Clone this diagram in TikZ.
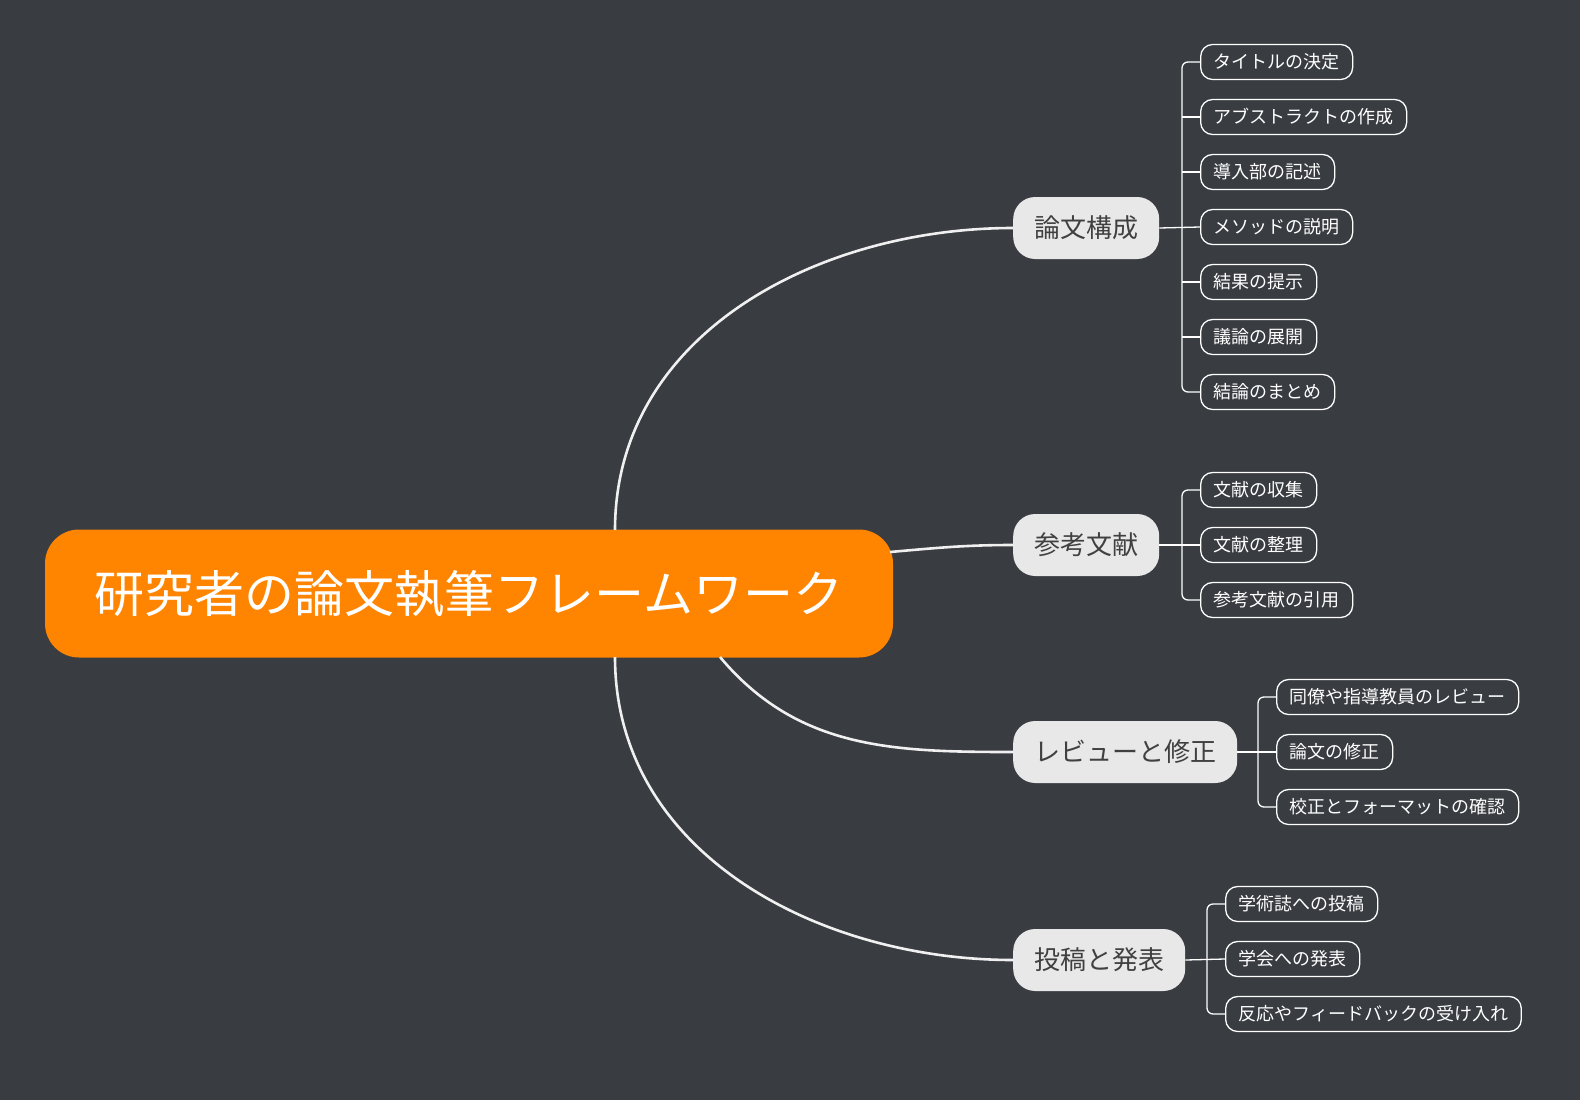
\documentclass[tikz,border=0pt]{standalone}
\usepackage{fontspec}
\setmainfont{Noto Sans CJK JP}
\begin{document}
\begin{tikzpicture}[x=1pt,y=-1pt,
  leaf/.style={draw=white,line width=1.3pt,rounded corners=12pt,text=white,font=\fontsize{18}{18}\selectfont,anchor=west,minimum height=35pt,inner xsep=13pt},
  branch/.style={fill=black!9,rounded corners=22pt,text=black!75,font=\fontsize{26}{26}\selectfont,anchor=west,minimum height=62pt,inner xsep=21pt},
  conn/.style={draw=black!6,line width=2.6pt},
  brk/.style={draw=white,line width=1.3pt,rounded corners=6pt}]
\fill[fill={rgb,255:red,57;green,60;blue,65}] (0,0) rectangle (1580,1100);
\useasboundingbox (0,0) rectangle (1580,1100);
\node[fill={rgb,255:red,255;green,132;blue,0},rounded corners=34pt,minimum width=848pt,minimum height=128pt,text=white,font=\fontsize{50}{50}\selectfont] (root) at (469,593.5) {研究者の論文執筆フレームワーク};
\node[branch] (b1) at (1013,228) {論文構成};
\node[branch] (b2) at (1013,545) {参考文献};
\node[branch] (b3) at (1013,752) {レビューと修正};
\node[branch] (b4) at (1013,960) {投稿と発表};
\coordinate (s1) at (615,530);
\coordinate (s2) at (890,552);
\coordinate (s3) at (720,657);
\coordinate (s4) at (615,657);
\draw[conn] (s1) to[out=90,in=180] (b1.west);
\draw[conn] (s2) to[out=5,in=180] (b2.west);
\draw[conn] (s3) to[out=-50,in=180] (b3.west);
\draw[conn] (s4) to[out=-90,in=180] (b4.west);
\foreach \t [count=\i] in {タイトルの決定,アブストラクトの作成,導入部の記述,メソッドの説明,結果の提示,議論の展開,結論のまとめ}
  \node[leaf] (a\i) at (1200,{62+55*(\i-1)}) {\t};
\draw[brk] (a1.west) -- ++(-18,0) |- (a7.west);
\foreach \i in {2,3,5,6} \draw[brk] (a\i.west) -- ++(-18,0);
\draw[brk] (a4.west) -- (b1.east);
\foreach \t [count=\i] in {文献の収集,文献の整理,参考文献の引用}
  \node[leaf] (c\i) at (1200,{490+55*(\i-1)}) {\t};
\draw[brk] (c1.west) -- ++(-18,0) |- (c3.west);
\draw[brk] (c2.west) -- (b2.east);
\foreach \t [count=\i] in {同僚や指導教員のレビュー,論文の修正,校正とフォーマットの確認}
  \node[leaf] (d\i) at (1276,{697+55*(\i-1)}) {\t};
\draw[brk] (d1.west) -- ++(-18,0) |- (d3.west);
\draw[brk] (d2.west) -- (b3.east);
\foreach \t [count=\i] in {学術誌への投稿,学会への発表,反応やフィードバックの受け入れ}
  \node[leaf] (e\i) at (1225,{904+55*(\i-1)}) {\t};
\draw[brk] (e1.west) -- ++(-18,0) |- (e3.west);
\draw[brk] (e2.west) -- (b4.east);
\end{tikzpicture}
\end{document}
